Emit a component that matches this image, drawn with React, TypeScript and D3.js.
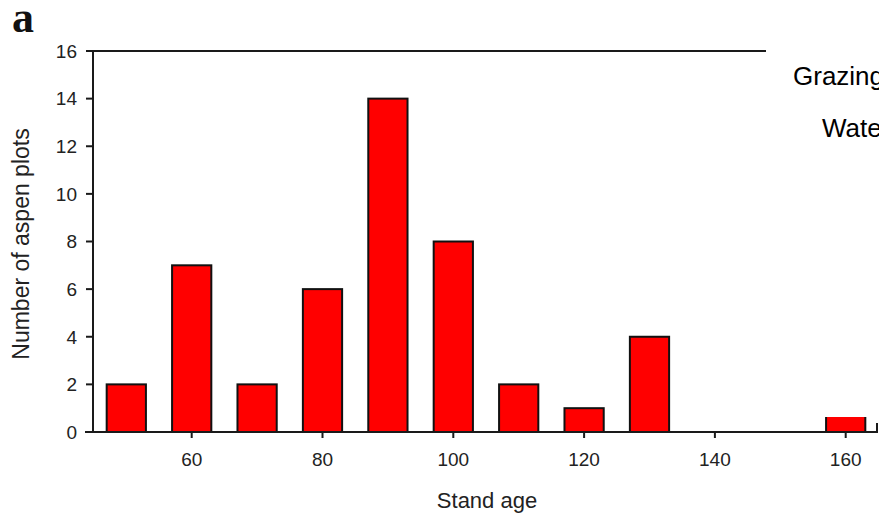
import React from "react";
import * as d3 from "d3";

const standAges = [50, 60, 70, 80, 90, 100, 110, 120, 130, 140, 150, 160];
const plotCounts = [2, 7, 2, 6, 14, 8, 2, 1, 4, 0, 0, 1];
const xTicks = [60, 80, 100, 120, 140, 160];
const yTicks = [0, 2, 4, 6, 8, 10, 12, 14, 16];
const legendLabels = ["Grazing", "Wate"];

const W = 879;
const H = 517;

export default function App() {
  const x = d3.scaleLinear().domain([50, 160]).range([126.3, 845.7]);
  const y = d3.scaleLinear().domain([0, 16]).range([432, 51]);
  const barW = x(56) - x(50);
  const axisLeft = 93;
  const axisRight = 877;
  const font = "Arial, 'Liberation Sans', sans-serif";
  const ink = "#1a1a1a";

  return (
    <svg
      width={W}
      height={H}
      style={{ position: "absolute", left: 0, top: 0, background: "#fff" }}
      fontFamily={font}
    >
      <rect x={0} y={0} width={W} height={H} fill="#fff" />
      {/* panel letter */}
      <text
        x={12}
        y={32}
        fontFamily="'Liberation Serif', 'DejaVu Serif', serif"
        fontWeight="bold"
        fontSize={44}
        fill="#111"
      >
        a
      </text>

      {/* bars */}
      {standAges.map((a, i) =>
        plotCounts[i] > 0 ? (
          <rect
            key={a}
            x={x(a) - barW / 2}
            y={y(plotCounts[i])}
            width={barW}
            height={y(0) - y(plotCounts[i])}
            fill="#ff0000"
            stroke="#111"
            strokeWidth={2}
          />
        ) : null
      )}

      {/* frame top and right */}
      <line x1={86} x2={axisRight} y1={y(16)} y2={y(16)} stroke={ink} strokeWidth={2} />
      <line x1={axisRight} x2={axisRight} y1={y(16)} y2={y(0)} stroke={ink} strokeWidth={2} />

      {/* y axis */}
      <line x1={axisLeft} x2={axisLeft} y1={y(16)} y2={y(0)} stroke={ink} strokeWidth={2} />
      {yTicks.map((t) => (
        <g key={t}>
          <line x1={86} x2={axisLeft} y1={y(t)} y2={y(t)} stroke={ink} strokeWidth={2} />
          <text
            x={77}
            y={y(t)}
            dy="0.36em"
            textAnchor="end"
            fontSize={19}
            fill="#222"
          >
            {t}
          </text>
        </g>
      ))}

      {/* x axis */}
      <line x1={85} x2={axisRight + 1} y1={y(0)} y2={y(0)} stroke={ink} strokeWidth={2} />
      {xTicks.map((t) => (
        <g key={t}>
          <line x1={x(t)} x2={x(t)} y1={y(0)} y2={y(0) + 6} stroke={ink} strokeWidth={2} />
          <text x={x(t)} y={466} textAnchor="middle" fontSize={19} fill="#222">
            {t}
          </text>
        </g>
      ))}

      {/* axis titles */}
      <text x={487} y={508} textAnchor="middle" fontSize={22} fill="#222">
        Stand age
      </text>
      <text
        transform={`translate(29, 244) rotate(-90)`}
        textAnchor="middle"
        fontSize={23}
        fill="#222"
      >
        Number of aspen plots
      </text>

      {/* white legend box covering upper right */}
      <rect x={766} y={0} width={W - 766} height={417} fill="#fff" />
      <rect x={868} y={417} width={W - 868} height={6} fill="#fff" />
      <text x={793} y={85} fontSize={26} fill="#000">
        {legendLabels[0]}
      </text>
      <text x={822} y={137} fontSize={26} fill="#000">
        {legendLabels[1]}
      </text>
    </svg>
  );
}
